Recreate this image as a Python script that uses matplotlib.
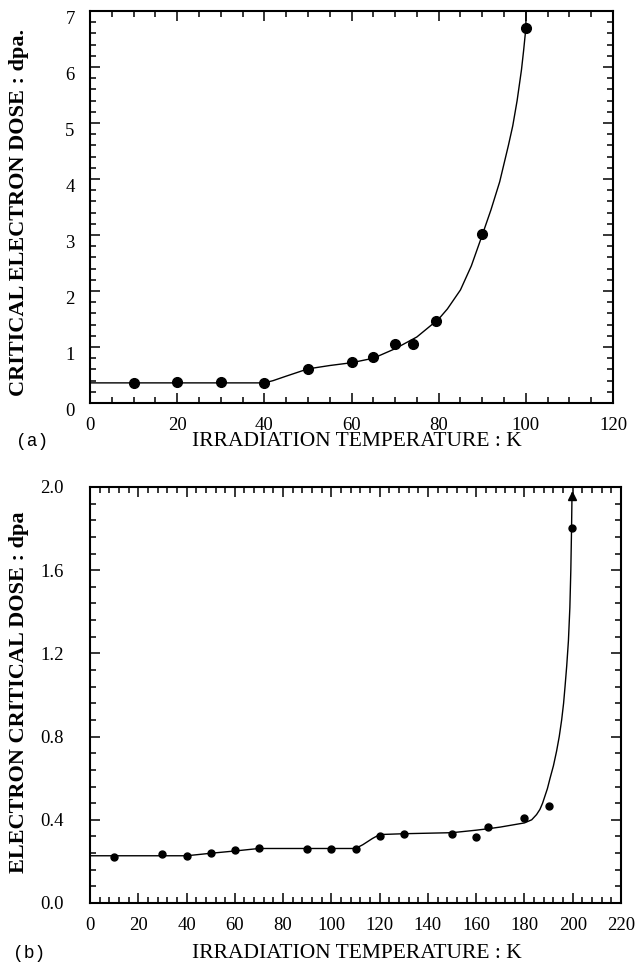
import matplotlib
matplotlib.use("Agg")
import matplotlib.pyplot as plt
from matplotlib.ticker import MultipleLocator, FormatStrFormatter

# panel (a): measured points
temp_a = [10, 20, 30, 40, 50, 60, 65, 70, 74, 79.5, 90, 100]
dose_a = [0.36, 0.37, 0.37, 0.36, 0.60, 0.74, 0.815, 1.05, 1.05, 1.46, 3.02, 6.69]

# panel (a): hand-drawn guide curve
curve_a_t = [0, 40, 42, 45, 50, 55, 60, 65, 70, 75, 80, 82, 85, 87.5, 90, 92, 94, 96, 97, 98, 99, 99.5, 100, 100.05]
curve_a_d = [0.36, 0.36, 0.40, 0.48, 0.61, 0.67, 0.72, 0.80, 0.97, 1.18, 1.50, 1.68, 2.02, 2.45, 3.0,
             3.45, 3.95, 4.6, 4.95, 5.4, 5.95, 6.3, 6.69, 7.0]

# panel (b): measured points
temp_b = [10, 30, 40, 50, 60, 70, 90, 100, 110, 120, 130, 150, 160, 165, 180, 190, 199.5]
dose_b = [0.22, 0.235, 0.226, 0.239, 0.255, 0.262, 0.26, 0.26, 0.26, 0.322, 0.332, 0.33, 0.318, 0.364, 0.41, 0.464, 1.805]

# panel (b): guide curve
curve_b_t = [0, 30, 40, 50, 60, 70, 110, 113, 117, 120, 130, 150, 160, 165, 170, 175, 180, 183,
             185, 186.4, 187.5, 188.5, 189.5, 190.6, 192, 193.3, 194.4, 195.4, 196.2, 196.8,
             197.5, 198.2, 198.8, 199.2, 199.5, 199.7]
curve_b_d = [0.227, 0.227, 0.227, 0.239, 0.25, 0.262, 0.262, 0.28, 0.31, 0.329, 0.333, 0.338, 0.35, 0.357,
             0.365, 0.375, 0.385, 0.40, 0.425, 0.45, 0.48, 0.515, 0.55, 0.60, 0.66, 0.73, 0.80, 0.88,
             0.96, 1.04, 1.14, 1.26, 1.42, 1.60, 1.80, 1.97]

SERIF = "Liberation Serif"
XLABEL = "IRRADIATION TEMPERATURE : K"


def style_axes(ax, xmaj, xmin, ymaj, ymin, ypad, yfmt):
    ax.xaxis.set_major_locator(MultipleLocator(xmaj))
    ax.xaxis.set_minor_locator(MultipleLocator(xmin))
    ax.yaxis.set_major_locator(MultipleLocator(ymaj))
    ax.yaxis.set_minor_locator(MultipleLocator(ymin))
    ax.yaxis.set_major_formatter(FormatStrFormatter(yfmt))
    ax.tick_params(which="both", direction="in", top=True, right=True, width=1.1, color="black")
    ax.tick_params(which="major", length=7)
    ax.tick_params(which="minor", length=4)
    ax.tick_params(axis="x", which="major", pad=10, labelsize=13.5, labelfontfamily=SERIF)
    ax.tick_params(axis="y", which="major", pad=ypad, labelsize=13.5, labelfontfamily=SERIF)
    for sp in ax.spines.values():
        sp.set_linewidth(1.5)


fig = plt.figure(figsize=(6.38, 9.67), dpi=100)

ax1 = fig.add_axes([0.1411, 0.5832, 0.8197, 0.4054])
ax1.plot(curve_a_t, curve_a_d, color="black", lw=1.0)
ax1.plot(temp_a, dose_a, "o", color="black", ms=7)
ax1.set_xlim(0, 120)
ax1.set_ylim(0, 7)
style_axes(ax1, 20, 5, 1, 0.2, 11, "%d")

ax2 = fig.add_axes([0.1411, 0.0662, 0.8323, 0.4302])
ax2.plot(curve_b_t, curve_b_d, color="black", lw=1.0)
ax2.plot(temp_b, dose_b, "o", color="black", ms=5)
ax2.plot([199.7], [1.955], "^", color="black", ms=6)
ax2.set_xlim(0, 220)
ax2.set_ylim(0, 2.0)
style_axes(ax2, 20, 4, 0.4, 0.08, 19, "%.1f")

# old-style labels in panel (a) sit a bit below their ticks
fig.canvas.draw()
for lab in ax1.get_yticklabels():
    lab.set_va("top")

fig.text(357 / 638, 1 - 442 / 967, XLABEL, family=SERIF, fontsize=15.5, ha="center", va="center")
fig.text(357 / 638, 1 - 953 / 967, XLABEL, family=SERIF, fontsize=15.5, ha="center", va="center")
fig.text(19 / 638, 1 - 212 / 967, "CRITICAL ELECTRON DOSE : dpa.", family=SERIF, fontsize=16,
         weight="bold", rotation=90, ha="center", va="center")
fig.text(19 / 638, 1 - 692 / 967, "ELECTRON CRITICAL DOSE : dpa", family=SERIF, fontsize=16,
         weight="bold", rotation=90, ha="center", va="center")
fig.text(32 / 638, 1 - 442 / 967, "(a)", family="Liberation Mono", fontsize=13, ha="center", va="center")
fig.text(29 / 638, 1 - 953 / 967, "(b)", family="Liberation Mono", fontsize=13, ha="center", va="center")

fig.savefig("out.png", dpi=100)
